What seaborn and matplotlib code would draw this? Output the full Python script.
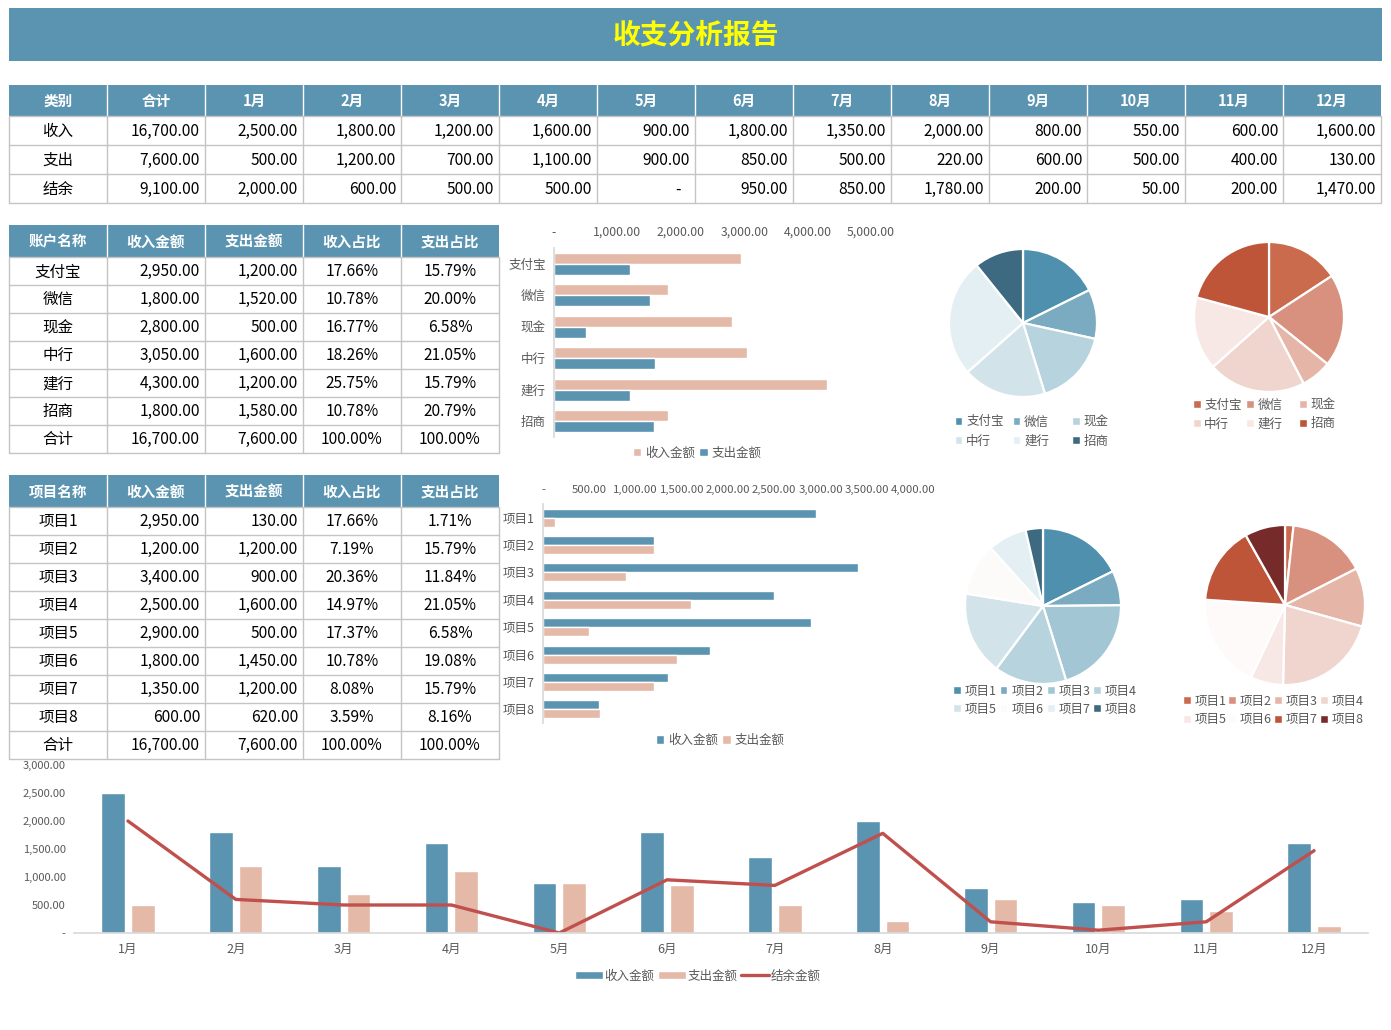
import numpy as np
import pandas as pd
import matplotlib
matplotlib.use('Agg')
import matplotlib.pyplot as plt
from matplotlib.patches import Rectangle, Patch
from matplotlib.lines import Line2D
import seaborn as sns

# ---------------- data ----------------
title_text = '收支分析报告'
months = ['1月', '2月', '3月', '4月', '5月', '6月', '7月', '8月', '9月', '10月', '11月', '12月']
monthly_income = [2500, 1800, 1200, 1600, 900, 1800, 1350, 2000, 800, 550, 600, 1600]
monthly_expense = [500, 1200, 700, 1100, 900, 850, 500, 220, 600, 500, 400, 130]
monthly_balance = [2000, 600, 500, 500, 0, 950, 850, 1780, 200, 50, 200, 1470]
summary_rows = ['收入', '支出', '结余']

accounts = ['支付宝', '微信', '现金', '中行', '建行', '招商']
account_income = [2950, 1800, 2800, 3050, 4300, 1800]
account_expense = [1200, 1520, 500, 1600, 1200, 1580]

projects = ['项目1', '项目2', '项目3', '项目4', '项目5', '项目6', '项目7', '项目8']
project_income = [2950, 1200, 3400, 2500, 2900, 1800, 1350, 600]
project_expense = [130, 1200, 900, 1600, 500, 1450, 1200, 620]

table1_header = ['类别', '合计'] + months
account_header = ['账户名称', '收入金额', '支出金额', '收入占比', '支出占比']
project_header = ['项目名称', '收入金额', '支出金额', '收入占比', '支出占比']
total_label = '合计'
series_labels = ['收入金额', '支出金额', '结余金额']

# ---------------- styles ----------------
BLUE = '#5A94B1'
PINK = '#E5B9A8'
LINE_RED = '#C0504D'
GRID = '#C4C4C4'
TXT = '#595959'
acc_blue = ['#4F90AE', '#7AABC0', '#B6D3DE', '#D2E4EA', '#E3EFF3', '#3D6A80']
acc_red = ['#CB6B4E', '#D9917F', '#E5B6A8', '#F0D5CF', '#F7E8E5', '#BE5539']
prj_blue = ['#4F90AE', '#7AABC0', '#A2C6D4', '#B6D3DE', '#D2E4EA', '#FDFBFA', '#E3EFF3', '#3D6A80']
prj_red = ['#CB6B4E', '#D9917F', '#E5B6A8', '#F0D5CF', '#F7E8E5', '#FDFAF9', '#BE5539', '#772A2A']

W, H = 1391, 1030
sns.set_theme(style='white')
plt.rcParams['font.family'] = ['Noto Sans CJK SC', 'DejaVu Sans']
plt.rcParams['axes.unicode_minus'] = False

fig = plt.figure(figsize=(W / 100, H / 100), dpi=100)
fig.patch.set_facecolor('white')


def box(x0, y0, x1, y1):
    return [x0 / W, 1 - y1 / H, (x1 - x0) / W, (y1 - y0) / H]


def fmt(v):
    return '-' if v == 0 else f'{v:,.2f}'


bg = fig.add_axes([0, 0, 1, 1])
bg.set_xlim(0, W)
bg.set_ylim(H, 0)
bg.axis('off')

# title band
bg.add_patch(Rectangle((9, 8), 1373, 53, facecolor=BLUE, edgecolor='none'))
bg.text(696, 35, title_text, color='#FFFF00', fontsize=20, weight='bold', ha='center', va='center')


def draw_table(x0, y0, col_w, header_h, row_h, header, rows, aligns):
    ncol = len(header)
    xe = [x0 + col_w * i for i in range(ncol + 1)]
    bg.add_patch(Rectangle((x0, y0), col_w * ncol, header_h, facecolor=BLUE, edgecolor='none'))
    for i in range(1, ncol):
        bg.plot([xe[i]] * 2, [y0, y0 + header_h], color='white', lw=1)
    for i, h in enumerate(header):
        bg.text((xe[i] + xe[i + 1]) / 2, y0 + header_h / 2 + 0.5, h, color='white', fontsize=10.5,
                weight='bold', ha='center', va='center')
    yb = y0 + header_h
    nrow = len(rows)
    for r in range(nrow + 1):
        y = yb + row_h * r
        bg.plot([x0, xe[-1]], [y, y], color=GRID, lw=1)
    for i in range(ncol + 1):
        bg.plot([xe[i]] * 2, [yb, yb + row_h * nrow], color=GRID, lw=1)
    for r, row in enumerate(rows):
        yc = yb + row_h * (r + 0.5) + 0.8
        for i, cell in enumerate(row):
            a = aligns[i]
            if a == 'center':
                x = (xe[i] + xe[i + 1]) / 2
            else:
                x = xe[i + 1] - (14 if cell == '-' else 5)
            bg.text(x, yc, cell, ha=a, va='center', fontsize=11.2, color='black')


# table 1
t1_rows = []
for name, vals in zip(summary_rows, [monthly_income, monthly_expense, monthly_balance]):
    t1_rows.append([name, fmt(sum(vals))] + [fmt(v) for v in vals])
draw_table(9, 85, 98, 31, 29, table1_header, t1_rows, ['center'] + ['right'] * 13)


def share_rows(names, inc, exp):
    ti, te = sum(inc), sum(exp)
    rows = []
    for n, a, b in zip(names, inc, exp):
        rows.append([n, fmt(a), fmt(b), f'{a / ti * 100:.2f}%', f'{b / te * 100:.2f}%'])
    rows.append([total_label, fmt(ti), fmt(te), '100.00%', '100.00%'])
    return rows


draw_table(9, 225, 98, 32, 28, account_header, share_rows(accounts, account_income, account_expense),
           ['center', 'right', 'right', 'center', 'center'])
draw_table(9, 475, 98, 32, 28, project_header, share_rows(projects, project_income, project_expense),
           ['center', 'right', 'right', 'center', 'center'])


# ---------------- horizontal bar charts ----------------
def hbar(pbox, names, inc, exp, palette, xmax, step, tick_fs, tick_pad, width, legend_xy):
    ax = fig.add_axes(box(*pbox))
    df = pd.DataFrame({'name': names * 2, 'value': inc + exp,
                       'type': [series_labels[0]] * len(names) + [series_labels[1]] * len(names)})
    sns.barplot(data=df, x='value', y='name', hue='type', hue_order=series_labels[:2], palette=palette,
                orient='h', width=width, saturation=1, legend=False, ax=ax)
    ax.set_xlim(0, xmax)
    ax.set_ylim(len(names) - 0.5, -0.5)
    ticks = np.arange(0, xmax + 1, step)
    ax.set_xticks(ticks)
    ax.set_xticklabels([fmt(t) for t in ticks])
    ax.xaxis.tick_top()
    ax.tick_params(axis='x', length=0, labelsize=tick_fs, colors=TXT, pad=tick_pad)
    ax.tick_params(axis='y', length=0, labelsize=9, colors=TXT, pad=6)
    ax.set_xlabel('')
    ax.set_ylabel('')
    for s in ['top', 'right', 'bottom']:
        ax.spines[s].set_visible(False)
    ax.spines['left'].set_color('#D9D9D9')
    ax.grid(False)
    handles = [Patch(facecolor=c) for c in palette]
    ax.legend(handles, series_labels[:2], loc='center', bbox_to_anchor=(legend_xy[0] / W, 1 - legend_xy[1] / H),
              bbox_transform=fig.transFigure, ncol=2, frameon=False, fontsize=9, handlelength=0.7,
              handleheight=0.7, handletextpad=0.3, columnspacing=0.3, labelcolor=TXT, borderpad=0)
    return ax


hbar((554, 248, 871, 437), accounts, account_income, account_expense, [PINK, BLUE], 5000, 1000, 8.8, 6.5, 0.7, (697, 453))
hbar((543, 504, 913, 723), projects, project_income, project_expense, [BLUE, PINK], 4000, 500, 8.2, 6.5, 0.66, (720, 740))


# ---------------- pies ----------------
def draw_pie(cx, cy, r, values, colors, labels, col_x, row_y):
    m = 1.03
    ax = fig.add_axes(box(cx - r * m, cy - r * m, cx + r * m, cy + r * m))
    ax.pie(values, colors=colors, startangle=90, counterclock=False, radius=1,
           wedgeprops=dict(edgecolor='white', linewidth=1.6))
    ax.set_xlim(-m, m)
    ax.set_ylim(-m, m)
    ax.set_aspect('equal')
    ax.axis('off')
    ncol = len(col_x)
    for i, (lab, col) in enumerate(zip(labels, colors)):
        x = col_x[i % ncol]
        y = row_y[i // ncol]
        fig.legend([Patch(facecolor=col)], [lab], loc='center left',
                   bbox_to_anchor=(x / W, 1 - y / H), bbox_transform=fig.transFigure,
                   frameon=False, fontsize=9, handlelength=0.6, handleheight=0.6,
                   handletextpad=0.3, labelcolor=TXT, borderpad=0, borderaxespad=0)


acc_inc_share = [v / sum(account_income) for v in account_income]
acc_exp_share = [v / sum(account_expense) for v in account_expense]
prj_inc_share = [v / sum(project_income) for v in project_income]
prj_exp_share = [v / sum(project_expense) for v in project_expense]

draw_pie(1023, 323, 74, acc_inc_share, acc_blue, accounts, [955, 1013, 1072], [422, 441])
draw_pie(1269, 317, 75, acc_exp_share, acc_red, accounts, [1193, 1246, 1299], [405, 424])
draw_pie(1043, 606, 78, prj_inc_share, prj_blue, projects, [953, 1000, 1047, 1093], [691, 709])
draw_pie(1285, 605, 80, prj_exp_share, prj_red, projects, [1183, 1228, 1274, 1320], [701, 720])

# ---------------- bottom combo chart ----------------
ax5 = fig.add_axes(box(74, 765, 1368, 933))
mdf = pd.DataFrame({'month': months * 2, 'value': monthly_income + monthly_expense,
                    'type': [series_labels[0]] * 12 + [series_labels[1]] * 12})
sns.barplot(data=mdf, x='month', y='value', hue='type', hue_order=series_labels[:2], palette=[BLUE, PINK],
            width=0.55, gap=0.2, saturation=1, legend=False, ax=ax5)
sns.lineplot(x=np.arange(len(months)), y=monthly_balance, color=LINE_RED, linewidth=2.4, ax=ax5)
ax5.set_xlim(-0.5, len(months) - 0.5)
ax5.set_ylim(0, 3000)
yt = np.arange(0, 3001, 500)
ax5.set_yticks(yt)
ax5.set_yticklabels([fmt(t) for t in yt])
ax5.tick_params(axis='y', length=0, labelsize=8, colors=TXT, pad=6)
ax5.tick_params(axis='x', length=0, labelsize=9, colors=TXT, pad=7.5)
ax5.set_xlabel('')
ax5.set_ylabel('')
for s in ['top', 'right', 'left']:
    ax5.spines[s].set_visible(False)
ax5.spines['bottom'].set_color('#D9D9D9')
ax5.grid(False)
h5 = [Patch(facecolor=BLUE), Patch(facecolor=PINK), Line2D([], [], color=LINE_RED, lw=2.4)]
ax5.legend(h5, series_labels, loc='center', bbox_to_anchor=(698 / W, 1 - 976 / H), bbox_transform=fig.transFigure,
           ncol=3, frameon=False, fontsize=9, handlelength=2.2, handleheight=0.6, handletextpad=0.15,
           columnspacing=0.3, labelcolor=TXT, borderpad=0)

fig.savefig('out.png', dpi=100, facecolor='white')
